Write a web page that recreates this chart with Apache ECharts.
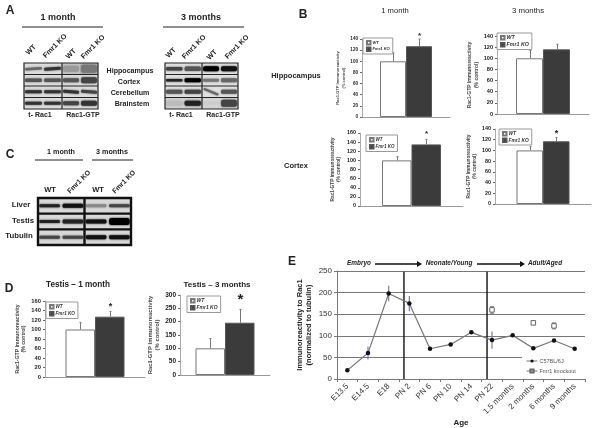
<!DOCTYPE html>
<html>
<head>
<meta charset="utf-8">
<style>html,body{margin:0;padding:0;background:#fff}#c{width:600px;height:428px;filter:blur(0.35px)}</style>
<script src="https://cdn.jsdelivr.net/npm/echarts@6/dist/echarts.min.js"></script>
</head>
<body>
<div id="c"></div>
<script>
// ---- bar panels (B hippocampus 1m, 3m; B cortex 1m, 3m; D testis 1m, 3m)
const groupNames = ['WT', 'Fmr1 KO'];
const wtValues = [100, 100, 100, 100, 100, 100];
const koValues = [127, 116, 135, 117, 127, 196];
const wtTops = [115, 114, 108, 107, 115, 137];
const koTops = [140, 125, 146, 124, 138, 246];
const starValues = [146, null, 158, 132, 148, 282];
const yMaxes = [140, 140, 160, 140, 160, 300];
const ySteps = [20, 20, 20, 20, 20, 50];
// ---- panel E
const ages = ['E13.5', 'E14.5', 'E18', 'PN 2', 'PN 6', 'PN 10', 'PN 14', 'PN 22', '1.5 months', '2 months', '6 months', '9 months'];
const c57Values = [20, 60, 198, 175, 70, 80, 108, 90, 101, 71, 89, 70];
const c57Low = [null, 45, 180, 157, null, null, null, 70, null, null, null, null];
const c57High = [null, 75, 216, 192, null, null, null, 110, null, null, null, null];
const fmr1Values = [null, null, null, null, null, null, null, 160, null, 130, 123, null];
const fmr1Low = [null, null, null, null, null, null, null, 152, null, 127, 116, null];
const fmr1High = [null, null, null, null, null, null, null, 168, null, 133, 130, null];
const stageBoundaries = [3.24, 7.26];
const eTicks = [0, 50, 100, 150, 200, 250];
// ---- western blots: [band grey, band thickness, tilt degrees, lane background] per row and lane
const blotA1 = [
  [['#666', 2.5, 3], ['#333', 3, 3], ['#999', 6, 0, '#c4c4c4'], ['#777', 8, 0, '#b4b4b4']],
  [['#555', 3.5], ['#555', 3.5], ['#555', 4], ['#444', 6]],
  [['#333', 3], ['#333', 3], ['#333', 3, -5], ['#444', 3, -5]],
  [['#333', 3], ['#333', 3], ['#444', 4], ['#333', 5]]
];
const blotA2 = [
  [['#444', 3.5], ['#555', 4.5], ['#000', 5], ['#111', 5]],
  [['#222', 2.5], ['#000', 4], ['#777', 3], ['#666', 4]],
  [['#555', 4], ['#444', 4], ['#666', 2, -22], ['#555', 4]],
  [['#bbb', 5, 0, '#cfcfcf'], ['#222', 5, 0, '#cfcfcf'], ['#ccc', 3, 0, '#d4d4d4'], ['#444', 7, 0, '#d4d4d4']]
];
const blotC = [
  [['#222', 3], ['#111', 4], ['#888', 3], ['#444', 3]],
  [['#222', 3], ['#222', 4], ['#111', 4], ['#000', 7]],
  [['#444', 3], ['#444', 3], ['#111', 4], ['#111', 4]]
];

// ---- layout
const FONT = '"Liberation Sans", Arial, sans-serif';
const barLayout = [
  {l: 362, r: 450, t: 39, b: 117, barW: 26, gap: 1, fs: 4.6, nameGap: 14, lg: [363, 38], lgFs: 4.1, starFs: 8},
  {l: 497, r: 589, t: 36, b: 114, barW: 27, gap: 1.5, fs: 5.6, nameGap: 17, lg: [497, 33], lgFs: 5.3, starFs: 8},
  {l: 360, r: 463, t: 133, b: 206, barW: 29.5, gap: 1.5, fs: 5.4, nameGap: 18, lg: [366, 135], lgFs: 4.5, starFs: 8},
  {l: 495, r: 591, t: 129, b: 204, barW: 26.5, gap: 1, fs: 5.4, nameGap: 16, lg: [499, 129], lgFs: 4.8, starFs: 9},
  {l: 45, r: 145, t: 301, b: 377, barW: 29.5, gap: 1.5, fs: 5.8, nameGap: 17, lg: [46, 302], lgFs: 4.6, starFs: 9},
  {l: 180, r: 270, t: 295, b: 375, barW: 29.5, gap: 1.5, fs: 6.5, nameGap: 16, lg: [187, 296], lgFs: 5, starFs: 15}
];
const eLayout = {l: 337, r: 585, t: 271, b: 379};

const grid = [], xAxis = [], yAxis = [], series = [], legend = [];

barLayout.forEach((p, i) => {
  grid.push({left: p.l, top: p.t, width: p.r - p.l, height: p.b - p.t, containLabel: false});
  xAxis.push({type: 'category', gridIndex: i, data: ['Rac1-GTP'], axisTick: {show: false}, axisLabel: {show: false},
    axisLine: {lineStyle: {color: '#999', width: 1}}});
  yAxis.push({type: 'value', gridIndex: i, min: 0, max: yMaxes[i], interval: ySteps[i],
    splitLine: {show: false},
    axisLine: {show: true, lineStyle: {color: '#aaa', width: 1}},
    axisTick: {show: true, length: 2, lineStyle: {color: '#666'}},
    axisLabel: {fontFamily: FONT, fontSize: p.fs, fontWeight: 'bold', color: '#222', margin: 4},
    name: 'Rac1-GTP Immunoreactivity\n(% control)', nameLocation: 'middle', nameGap: p.nameGap,
    nameRotate: 90, nameTextStyle: {fontFamily: FONT, fontSize: p.fs - 0.6, fontWeight: 'bold', color: '#444', lineHeight: p.fs + 1}});
  series.push({name: groupNames[0], type: 'bar', xAxisIndex: i, yAxisIndex: i, data: [wtValues[i]], barWidth: p.barW, barGap: 0,
    itemStyle: {color: '#fff', borderColor: '#777', borderWidth: 1}, silent: true, animation: false});
  series.push({name: groupNames[1], type: 'bar', xAxisIndex: i, yAxisIndex: i, data: [koValues[i]], barWidth: p.barW, barGap: 0,
    itemStyle: {color: '#3b3b3b', borderColor: '#555', borderWidth: 1}, silent: true, animation: false});
  series.push({name: 'error bars', type: 'custom', xAxisIndex: i, yAxisIndex: i, silent: true, animation: false, z: 3,
    data: [[0, wtValues[i], wtTops[i], -1, null], [0, koValues[i], koTops[i], 1, starValues[i]]],
    encode: {x: 0, y: [1, 2]},
    renderItem: (params, api) => {
      const side = api.value(3);
      const a = api.coord([0, api.value(1)]);
      const b = api.coord([0, api.value(2)]);
      const x = Math.round(a[0] + side * p.barW / 2) + 0.5;
      const kids = [
        {type: 'line', shape: {x1: x, y1: a[1], x2: x, y2: b[1]}, style: {stroke: '#777', lineWidth: 1}},
        {type: 'line', shape: {x1: x - 1, y1: b[1], x2: x + 1, y2: b[1]}, style: {stroke: '#777', lineWidth: 1}}
      ];
      const s = api.value(4);
      if (!isNaN(s) && s !== null && s > 0) {
        kids.push({type: 'text', x: x, y: api.coord([0, s])[1], style: {text: '*', font: 'bold ' + p.starFs + 'px ' + FONT, fill: '#222', align: 'center', verticalAlign: 'middle'}});
      }
      return {type: 'group', children: kids};
    }});
  legend.push({show: true, left: p.lg[0], top: p.lg[1], orient: 'vertical', data: groupNames, selectedMode: false,
    itemWidth: 3.5, itemHeight: 3.5, itemGap: p.gap, padding: [2, 3, 2, 3], backgroundColor: '#fff', borderColor: '#999', borderWidth: 1,
    icon: 'rect', textStyle: {fontFamily: FONT, fontSize: p.lgFs, fontStyle: 'italic', fontWeight: 'bold', color: '#333', padding: [0, 0, 0, -3]}});
});

// Panel E
const e = barLayout.length;
grid.push({left: eLayout.l, top: eLayout.t, width: eLayout.r - eLayout.l, height: eLayout.b - eLayout.t});
xAxis.push({type: 'category', gridIndex: e, data: ages, boundaryGap: true,
  axisLine: {lineStyle: {color: '#777'}}, axisTick: {show: true, alignWithLabel: false, length: 3, lineStyle: {color: '#777'}},
  axisLabel: {rotate: 45, interval: 0, margin: 6, fontFamily: FONT, fontSize: 8, color: '#333'},
  name: 'Age', nameLocation: 'middle', nameGap: 39, nameTextStyle: {fontFamily: FONT, fontSize: 8, fontWeight: 'bold', color: '#222'}});
xAxis.push({type: 'value', gridIndex: e, min: 0, max: 12, show: false});
yAxis.push({type: 'value', gridIndex: e, min: eTicks[0], max: eTicks[eTicks.length - 1], interval: 50,
  splitLine: {show: true, lineStyle: {color: '#777', width: 1}},
  axisLine: {show: true, lineStyle: {color: '#777'}}, axisTick: {show: true, length: 3, lineStyle: {color: '#777'}},
  axisLabel: {fontFamily: FONT, fontSize: 8, color: '#333', margin: 5},
  name: 'Immunoreactivity to Rac1\n(normalized to tubulin)', nameLocation: 'middle', nameGap: 24, nameRotate: 90,
  nameTextStyle: {fontFamily: FONT, fontSize: 7.5, fontWeight: 'bold', color: '#222', lineHeight: 8.5}});
const eX = xAxis.findIndex(a => a.gridIndex === e);
const eV = eX + 1;
const eY = yAxis.length - 1;

series.push({name: 'stage boundaries', type: 'custom', xAxisIndex: eV, yAxisIndex: eY, silent: true, animation: false, z: 3,
  data: stageBoundaries.map(v => [v, eTicks[0], 248]), encode: {x: 0, y: [1, 2]},
  renderItem: (params, api) => {
    const a = api.coord([api.value(0), api.value(1)]);
    const b = api.coord([api.value(0), api.value(2)]);
    return {type: 'line', shape: {x1: a[0], y1: a[1], x2: b[0], y2: b[1]}, style: {stroke: '#111', lineWidth: 1.4}};
  }});
series.push({name: 'c57 error', type: 'custom', xAxisIndex: eX, yAxisIndex: eY, silent: true, animation: false, z: 3,
  data: ages.map((c, i) => [i, c57Low[i] === null ? '-' : c57Low[i], c57High[i] === null ? '-' : c57High[i]]), encode: {x: 0, y: [1, 2]},
  renderItem: (params, api) => {
    if (isNaN(api.value(1))) return null;
    const a = api.coord([api.value(0), api.value(1)]);
    const b = api.coord([api.value(0), api.value(2)]);
    return {type: 'line', shape: {x1: a[0], y1: a[1], x2: b[0], y2: b[1]}, style: {stroke: '#7b78b5', lineWidth: 1.2}};
  }});
series.push({name: 'fmr1 error', type: 'custom', xAxisIndex: eX, yAxisIndex: eY, silent: true, animation: false, z: 3,
  data: ages.map((c, i) => [i, fmr1Low[i] === null ? '-' : fmr1Low[i], fmr1High[i] === null ? '-' : fmr1High[i]]), encode: {x: 0, y: [1, 2]},
  renderItem: (params, api) => {
    if (isNaN(api.value(1))) return null;
    const a = api.coord([api.value(0), api.value(1)]);
    const b = api.coord([api.value(0), api.value(2)]);
    return {type: 'group', children: [
      {type: 'line', shape: {x1: a[0], y1: a[1], x2: b[0], y2: b[1]}, style: {stroke: '#888', lineWidth: 1}},
      {type: 'line', shape: {x1: a[0] - 2, y1: a[1], x2: a[0] + 2, y2: a[1]}, style: {stroke: '#888', lineWidth: 1}},
      {type: 'line', shape: {x1: b[0] - 2, y1: b[1], x2: b[0] + 2, y2: b[1]}, style: {stroke: '#888', lineWidth: 1}}
    ]};
  }});
series.push({name: 'C57BL/6J', type: 'line', xAxisIndex: eX, yAxisIndex: eY, data: c57Values, symbol: 'circle', symbolSize: 4.5,
  lineStyle: {color: '#777', width: 1.2}, itemStyle: {color: '#111'}, animation: false, silent: true, z: 4});
series.push({name: 'Fmr1 knockout', type: 'line', xAxisIndex: eX, yAxisIndex: eY, data: fmr1Values, symbol: 'rect', symbolSize: 4.5, showSymbol: true,
  lineStyle: {color: '#777', width: 1, opacity: 0}, itemStyle: {color: '#fff', borderColor: '#666', borderWidth: 1}, animation: false, silent: true, z: 4});
legend.push({show: true, left: 522, top: 356, orient: 'vertical', data: ['C57BL/6J', 'Fmr1 knockout'], selectedMode: false,
  itemWidth: 11, itemHeight: 4, itemGap: 4, padding: [2, 12, 2, 4], backgroundColor: '#fff',
  lineStyle: {color: '#777', width: 1, opacity: 1},
  textStyle: {fontFamily: FONT, fontSize: 5.5, color: '#555', padding: [0, 0, 0, -3]}});

// ---- Static labels and the western blot artwork
const g = [];
function txt(text, x, y, size, o) {
  o = o || {};
  g.push({type: 'text', x: x, y: y, rotation: (o.rot || 0) * Math.PI / 180, z: 20,
    style: {text: text, font: (o.style || '') + ' ' + (o.weight || 'bold') + ' ' + size + 'px ' + FONT,
      fill: o.fill || '#222', align: o.align || 'center', verticalAlign: 'middle'}});
}
function hline(x1, x2, y, w) {
  g.push({type: 'line', z: 20, shape: {x1: x1, y1: y, x2: x2, y2: y}, style: {stroke: '#222', lineWidth: w || 1}});
}
function arrow(x1, x2, y) {
  g.push({type: 'line', z: 20, shape: {x1: x1, y1: y, x2: x2 - 3, y2: y}, style: {stroke: '#111', lineWidth: 1.4}});
  g.push({type: 'polygon', z: 20, shape: {points: [[x2 - 5, y - 3], [x2, y], [x2 - 5, y + 3]]}, style: {fill: '#111'}});
}
function blot(rows, x0, x1, xm, y0, y1, opts) {
  const rowH = (y1 - y0) / rows.length;
  const bw = opts.border;
  g.push({type: 'rect', z: 10, shape: {x: x0, y: y0, width: x1 - x0, height: y1 - y0}, style: {fill: opts.bg}});
  rows.forEach((row, r) => {
    row.forEach((band, lane) => {
      const left = lane < 2 ? x0 : xm;
      const w = (lane < 2 ? xm - x0 : x1 - xm) / 2;
      const cx = left + w * (lane % 2 + 0.5);
      const cy = y0 + rowH * (r + 0.5);
      if (band[3]) {
        g.push({type: 'rect', z: 10, shape: {x: left + w * (lane % 2), y: y0 + rowH * r, width: w, height: rowH}, style: {fill: band[3]}});
      }
      g.push({type: 'rect', z: 11, x: cx, y: cy, rotation: (band[2] || 0) * Math.PI / 180,
        shape: {x: -w * 0.44, y: -band[1] / 2, width: w * 0.88, height: band[1], r: band[1] / 3},
        style: {fill: band[0], shadowColor: band[0], shadowBlur: 2}});
    });
    if (r > 0) {
      g.push({type: 'line', z: 12, shape: {x1: x0, y1: y0 + rowH * r, x2: x1, y2: y0 + rowH * r}, style: {stroke: opts.line, lineWidth: bw}});
    }
  });
  g.push({type: 'line', z: 12, shape: {x1: xm, y1: y0, x2: xm, y2: y1}, style: {stroke: opts.line, lineWidth: bw}});
  g.push({type: 'rect', z: 12, shape: {x: x0, y: y0, width: x1 - x0, height: y1 - y0}, style: {fill: 'none', stroke: opts.line, lineWidth: bw}});
}

// Panel A
txt('A', 10, 11, 12);
txt('1 month', 58, 18, 9); hline(22, 103, 27, 1.2);
txt('3 months', 201, 18, 9); hline(163, 244, 27, 1.2);
[[31, 50, 'WT'], [55, 46, 'Fmr1 KO'], [71, 54, 'WT'], [93, 47, 'Fmr1 KO'], [171, 53, 'WT'], [194, 47, 'Fmr1 KO'], [212, 55, 'WT'], [237, 47, 'Fmr1 KO']]
  .forEach(a => txt(a[2], a[0], a[1], 7.2, {rot: 45}));
blot(blotA1, 24, 98, 62, 63, 109, {bg: '#dcdcdc', line: '#222', border: 1.2});
blot(blotA2, 165, 238, 202, 63, 109, {bg: '#e0e0e0', line: '#222', border: 1.2});
[['Hippocampus', 71], ['Cortex', 82], ['Cerebellum', 93], ['Brainstem', 104]].forEach((a, i) => txt(a[0], [130, 129, 130, 132][i], a[1], 7.1));
[['t- Rac1', 40], ['Rac1-GTP', 83], ['t- Rac1', 181], ['Rac1-GTP', 223]].forEach(a => txt(a[0], a[1], 115, 7));

// Panel B
txt('B', 303, 15, 12);
txt('1 month', 395, 11, 7.6, {weight: 'normal'});
txt('3 months', 528, 11, 7.8, {weight: 'normal'});
txt('Hippocampus', 296, 76, 7.5);
txt('Cortex', 296, 166, 7.5);

// Panel C
txt('C', 10, 155, 12);
txt('1 month', 61, 152, 7.2); hline(35, 83, 160, 1.2);
txt('3 months', 112, 152, 7.2); hline(92, 133, 160, 1.2);
txt('WT', 50, 190, 7.5); txt('Fmr1 KO', 79, 182, 7, {rot: 45});
txt('WT', 98, 190, 7.5); txt('Fmr1 KO', 124, 182, 7, {rot: 45});
blot(blotC, 38, 131, 84.5, 198, 245, {bg: '#d8d8d8', line: '#111', border: 2.4});
txt('Liver', 21, 205, 7.8); txt('Testis', 23, 221, 7.8); txt('Tubulin', 19, 236, 7.8);

// Panel D
txt('D', 9, 289, 12);
txt('Testis \u2013 1 month', 78, 285, 8.2);
txt('Testis \u2013 3 months', 217, 285, 8);

// Panel E
txt('E', 292, 262, 12);
txt('Embryo', 359, 263.5, 6.4, {style: 'italic'});
arrow(375, 422, 264);
txt('Neonate/Young', 449, 263.5, 6.4, {style: 'italic'});
arrow(477, 525, 264);
txt('Adult/Aged', 545, 263.5, 6.4, {style: 'italic'});

const chart = echarts.init(document.getElementById('c'), null, {renderer: 'canvas'});
chart.setOption({
  backgroundColor: '#fff', animation: false,
  grid: grid, xAxis: xAxis, yAxis: yAxis, series: series, legend: legend,
  graphic: {elements: g}
});
</script>
</body>
</html>
